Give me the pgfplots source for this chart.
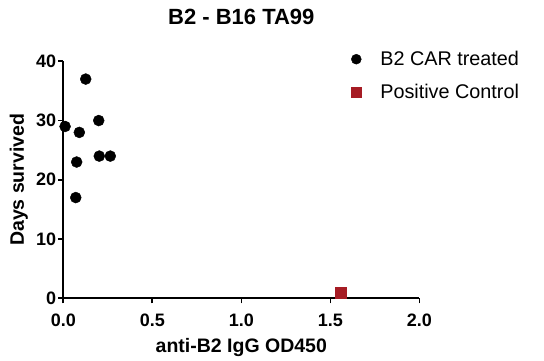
\documentclass[border=0pt]{standalone}
\usepackage{fontspec}
\setmainfont{Liberation Sans}
\usepackage{pgfplots}
\pgfplotsset{compat=1.18}
\definecolor{ctrl}{RGB}{166,28,36}
\begin{document}
\begin{tikzpicture}
\path[use as bounding box] (-63.3pt,-62.7pt) rectangle (480.7pt,298.3pt);
\begin{axis}[
  scale only axis, width=356pt, height=237pt,
  xmin=0, xmax=2, ymin=0, ymax=40,
  axis lines=left, axis line style={-, line width=1.6pt},
  tick align=outside, major tick length=5pt,
  tick style={line width=1.6pt, black},
  xtick={0,0.5,1,1.5,2}, ytick={0,10,20,30,40},
  /pgf/number format/assume math mode=true,
  ticklabel style={font=\fontsize{18}{20}\selectfont\bfseries},
  xticklabel style={/pgf/number format/.cd, fixed, fixed zerofill, precision=1, /tikz/.cd, yshift=-7pt},
  yticklabel style={inner sep=1pt, xshift=-1pt},
  title={B2 - B16 TA99},
  title style={font=\fontsize{22}{24}\selectfont\bfseries, at={(axis description cs:0.5,1.132)}, anchor=base},
  xlabel={anti-B2 IgG OD450},
  xlabel style={font=\fontsize{19.5}{22}\selectfont\bfseries, at={(axis description cs:0.5,-0.2308)}, anchor=base},
  ylabel={Days survived},
  ylabel style={font=\fontsize{19.5}{22}\selectfont\bfseries, at={(axis description cs:-0.1104,0.5)}, anchor=base},
  clip=false,
  legend style={draw=none, fill=none, at={(axis description cs:0.80,1.06)}, anchor=north west,
    font=\fontsize{19.8}{22}\selectfont, legend cell align=left, row sep=13.5pt},
  legend image code/.code={\draw[#1] plot coordinates {(0pt,0pt)}; \path[draw=none] (-5pt,-5pt) rectangle (22pt,5pt);},
]
\addplot[only marks, mark=*, mark size=5.5pt, black, legend image post style={mark size=5pt}] coordinates {
  (0.01,29) (0.126,37) (0.09,28) (0.075,23) (0.07,17) (0.199,30) (0.202,24) (0.264,24)
};
\addlegendentry{B2 CAR treated}
\addplot[only marks, mark=square*, mark size=5.5pt, ctrl, legend image post style={mark size=5pt}] coordinates {
  (1.56,1)
};
\addlegendentry{Positive Control}
\end{axis}
\end{tikzpicture}
\end{document}
